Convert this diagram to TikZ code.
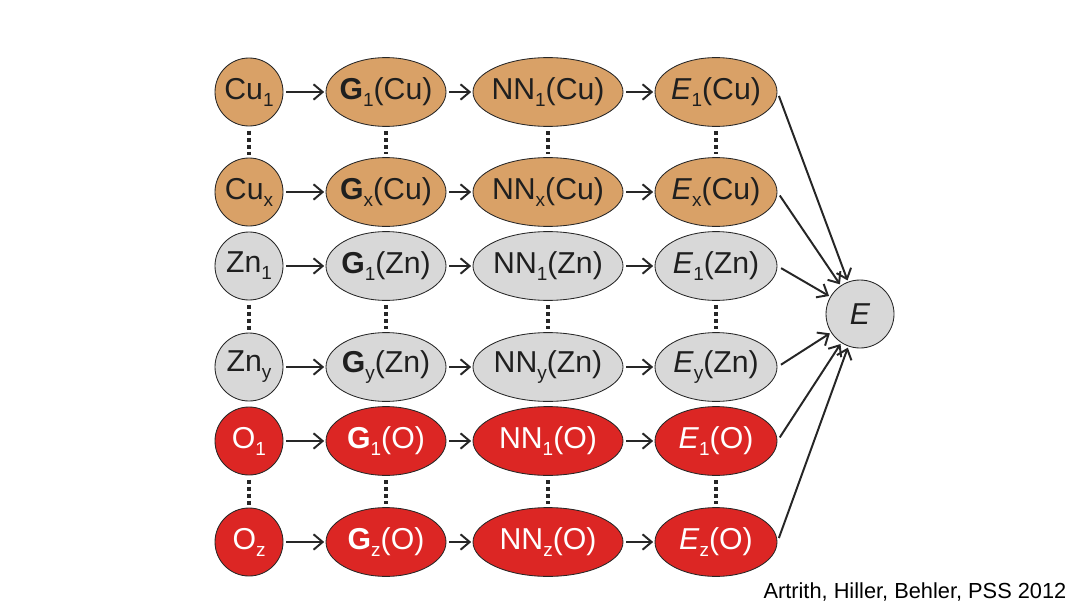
\documentclass[tikz,border=0pt]{standalone}
\usepackage{fontspec}
\setmainfont{Liberation Sans}
\usepackage{tikz}
\usetikzlibrary{shapes, calc, arrows, arrows.meta, positioning}

\definecolor{cuorange}{RGB}{217,161,103}
\definecolor{zngray}{RGB}{216,216,216}
\definecolor{ored}{RGB}{220,38,36}
\newcommand{\sbs}[1]{\raisebox{-5pt}{\fontsize{13.5}{14}\selectfont #1}}
\newcommand{\nlab}[1]{\makebox[0pt]{#1}}

\begin{document}
\begin{tikzpicture}[->,>={Straight Barb[length=6.5pt,width=11pt,line width=1.4pt]},line width=1.4pt,draw=black!85,font=\fontsize{21.5}{24}\selectfont]
	\tikzset{
		atom/.style={circle, draw, line width=0.6pt, minimum size=1.7cm, inner sep=0pt},
		blob/.style={ellipse, draw, line width=0.6pt, minimum height=1.72cm, inner sep=0pt},
		cu/.style={fill=cuorange, text=black!88},
		zn/.style={fill=zngray, text=black!88},
		ox/.style={fill=ored, text=white},
		gcol/.style={blob, minimum width=3.0cm},
		nncol/.style={blob, minimum width=3.75cm},
		ecol/.style={blob, minimum width=3.05cm},
		dotline/.style={-, line width=3pt, dash pattern=on 3pt off 2pt, shorten <=3pt, shorten >=2pt},
		feed/.style={shorten <=2pt, shorten >=1pt}
	}
	\useasboundingbox (0,0) rectangle (27,15.2);

	% copper
	\node[atom, cu] (cu1) at (6.225,12.9) {\nlab{Cu\sbs{1}}};
	\node[gcol, cu] (gcu1) at (9.65,12.9) {\nlab{\textbf{G}\sbs{1}(Cu)}};
	\node[nncol, cu] (nncu1) at (13.7,12.9) {\nlab{NN\sbs{1}(Cu)}};
	\node[ecol, cu] (ecu1) at (17.9,12.9) {\nlab{\textit{E}\sbs{1}(Cu)}};
	\node[atom, cu] (cux) at (6.225,10.4) {\nlab{Cu\sbs{x}}};
	\node[gcol, cu] (gcux) at (9.65,10.4) {\nlab{\textbf{G}\sbs{x}(Cu)}};
	\node[nncol, cu] (nncux) at (13.7,10.4) {\nlab{NN\sbs{x}(Cu)}};
	\node[ecol, cu] (ecux) at (17.9,10.4) {\nlab{\textit{E}\sbs{x}(Cu)}};

	% zinc
	\node[atom, zn] (zn1) at (6.225,8.55) {\nlab{Zn\sbs{1}}};
	\node[gcol, zn] (gzn1) at (9.65,8.55) {\nlab{\textbf{G}\sbs{1}(Zn)}};
	\node[nncol, zn] (nnzn1) at (13.7,8.55) {\nlab{NN\sbs{1}(Zn)}};
	\node[ecol, zn] (ezn1) at (17.9,8.55) {\nlab{\textit{E}\sbs{1}(Zn)}};
	\node[atom, zn] (zny) at (6.225,6.025) {\nlab{Zn\sbs{y}}};
	\node[gcol, zn] (gzny) at (9.65,6.025) {\nlab{\textbf{G}\sbs{y}(Zn)}};
	\node[nncol, zn] (nnzny) at (13.7,6.025) {\nlab{NN\sbs{y}(Zn)}};
	\node[ecol, zn] (ezny) at (17.9,6.025) {\nlab{\textit{E}\sbs{y}(Zn)}};

	% oxygen
	\node[atom, ox] (o1) at (6.225,4.175) {\nlab{O\sbs{1}}};
	\node[gcol, ox] (go1) at (9.65,4.175) {\nlab{\textbf{G}\sbs{1}(O)}};
	\node[nncol, ox] (nno1) at (13.7,4.175) {\nlab{NN\sbs{1}(O)}};
	\node[ecol, ox] (eo1) at (17.9,4.175) {\nlab{\textit{E}\sbs{1}(O)}};
	\node[atom, ox] (oz) at (6.225,1.65) {\nlab{O\sbs{z}}};
	\node[gcol, ox] (goz) at (9.65,1.65) {\nlab{\textbf{G}\sbs{z}(O)}};
	\node[nncol, ox] (nnoz) at (13.7,1.65) {\nlab{NN\sbs{z}(O)}};
	\node[ecol, ox] (eoz) at (17.9,1.65) {\nlab{\textit{E}\sbs{z}(O)}};

	% total energy
	\node[atom, zn] (etot) at (21.5,7.35) {\textit{E}};

	\node[anchor=base east, font=\fontsize{15.5}{18}\selectfont] (cite) at (26.8,0.25) {Artrith, Hiller, Behler, PSS 2012};

	\foreach \r in {cu1,cux,zn1,zny,o1,oz} {
		\draw[feed] (\r) -- (g\r);
		\draw[feed] (g\r) -- (nn\r);
		\draw[feed] (nn\r) -- (e\r);
		\draw[feed, shorten <=3pt] (e\r.east) -- (etot);
	}

	\foreach \a/\b in {cu1/cux,zn1/zny,o1/oz} {
		\draw[dotline] (\a) -- (\b);
		\draw[dotline] (g\a) -- (g\b);
		\draw[dotline] (nn\a) -- (nn\b);
		\draw[dotline] (e\a) -- (e\b);
	}
\end{tikzpicture}
\end{document}
